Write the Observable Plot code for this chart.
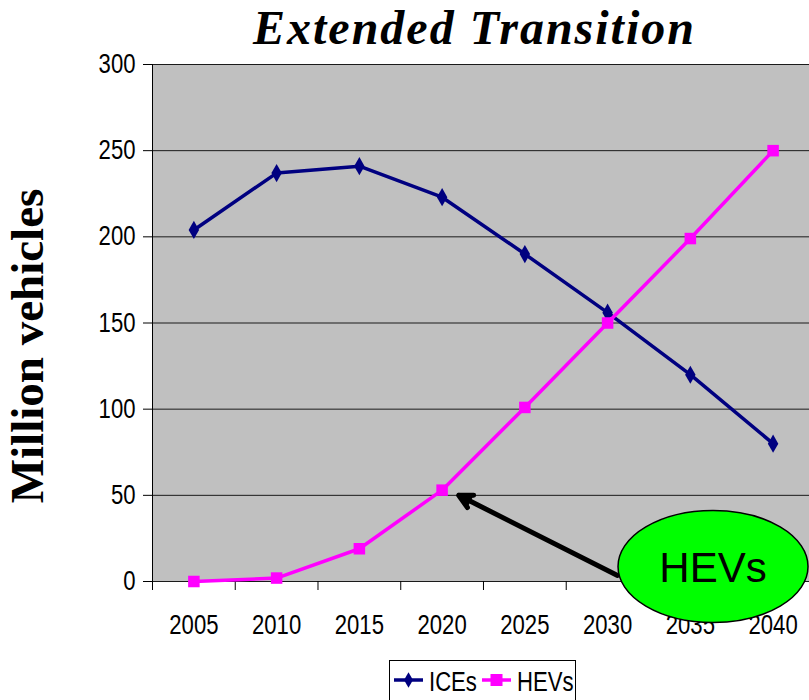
<!DOCTYPE html>
<html>
<head>
<meta charset="utf-8">
<script src="https://cdn.jsdelivr.net/npm/d3@7"></script>
<script src="https://cdn.jsdelivr.net/npm/@observablehq/plot@0.6"></script>
<style>
  body { margin: 0; background: #fff; }
  #wrap { position: relative; width: 809px; height: 700px; overflow: hidden; }
  #title { position: absolute; left: 140px; right: 0; top: 0px; text-align: center; line-height: 56px;
    font: italic bold 48px "Liberation Serif", "Times New Roman", serif; letter-spacing: 2px; color: #000; }
  #legend { position: absolute; left: 389px; top: 660px; }
</style>
</head>
<body>
<div id="wrap">
  <div id="chart"></div>
  <div id="title">Extended Transition</div>
  <div id="legend"></div>
</div>
<script>
const years = [2005, 2010, 2015, 2020, 2025, 2030, 2035, 2040];
const ices  = [204, 237, 241, 223, 190, 156, 120, 80];
const hevs  = [0, 2, 19, 53, 101, 150, 199, 250];
const yTicks = [0, 50, 100, 150, 200, 250, 300];
const xBoundaries = [2002.5, 2007.5, 2012.5, 2017.5, 2022.5, 2027.5, 2032.5, 2037.5];
const seriesNames = ["ICEs", "HEVs"];
const seriesColors = ["#000080", "#ff00ff"];
const calloutText = "HEVs";
const arrowData = [{x1: 2030.6, y1: 3.5, x2: 2021.0, y2: 50}];
const calloutCenter = {x: 2036.4, y: 8.4};

const rows = [];
years.forEach((yr, i) => {
  rows.push({year: yr, value: ices[i], series: seriesNames[0]});
  rows.push({year: yr, value: hevs[i], series: seriesNames[1]});
});
const iceRows = rows.filter(d => d.series === "ICEs");
const hevRows = rows.filter(d => d.series === "HEVs");

const sansFont = '"Liberation Sans", Arial, sans-serif';
const serifFont = '"Liberation Serif", "Times New Roman", serif';
const squeeze = " scale(0.82,1)";

const chart = Plot.plot({
  width: 809,
  height: 656,
  marginLeft: 152,
  marginRight: 0,
  marginTop: 64,
  marginBottom: 75,
  style: {fontFamily: sansFont, background: "transparent", overflow: "visible"},
  x: {type: "linear", domain: [2002.5, 2042.2]},
  y: {domain: [0, 300]},
  marks: [
    Plot.frame({fill: "#c0c0c0", stroke: null}),
    Plot.ruleY(yTicks, {stroke: "#1a1a1a", strokeWidth: 1}),
    Plot.ruleX([2002.5], {stroke: "#000", strokeWidth: 1}),
    Plot.axisY({ticks: yTicks, tickSize: 9, tickPadding: 8, fontSize: 27, label: null,
      tickFormat: d => String(d)}),
    Plot.axisX({ticks: xBoundaries, tickSize: 9, tickFormat: () => "", label: null}),
    Plot.axisX({ticks: years, tickSize: 0, tickPadding: 33, fontSize: 27, label: null,
      tickFormat: d => String(d)}),
    Plot.text(["Million vehicles"], {frameAnchor: "left", textAnchor: "middle", rotate: -90, dx: -125, dy: 23,
      fontSize: 47, fontWeight: "bold", fontFamily: serifFont, fill: "#000"}),
    Plot.line(iceRows, {x: "year", y: "value", stroke: seriesColors[0], strokeWidth: 3.5}),
    Plot.dot(iceRows, {x: "year", y: "value", symbol: "diamond", r: 5.5, fill: seriesColors[0], stroke: null}),
    Plot.line(hevRows, {x: "year", y: "value", stroke: seriesColors[1], strokeWidth: 3.5}),
    Plot.dot(hevRows, {x: "year", y: "value", symbol: "square", r: 6.5, fill: seriesColors[1], stroke: null}),
    Plot.arrow(arrowData, {x1: "x1", y1: "y1", x2: "x2", y2: "y2", stroke: "#000", fill: "#000",
      strokeWidth: 5, headLength: 4.5, headAngle: 55, strokeLinejoin: "miter"})
  ]
});
document.getElementById("chart").appendChild(chart);

// Condense tick labels horizontally (reference uses a narrow rendering)
d3.select(chart).selectAll('g[aria-label="x-axis tick label"] text, g[aria-label="y-axis tick label"] text')
  .each(function() { this.setAttribute("transform", (this.getAttribute("transform") || "") + squeeze); });

// Callout ellipse drawn on top of axis labels
const sx = chart.scale("x"), sy = chart.scale("y");
const svg = d3.select(chart);
const g = svg.append("g");
const cx = sx.apply(calloutCenter.x), cy = sy.apply(calloutCenter.y);
g.append("ellipse").attr("cx", cx).attr("cy", cy).attr("rx", 95).attr("ry", 56)
  .attr("fill", "#00ff00").attr("stroke", "#000").attr("stroke-width", 1.5);
g.append("text").attr("x", cx).attr("y", cy).attr("text-anchor", "middle").attr("dy", "0.36em")
  .attr("font-family", sansFont).attr("font-size", 42).attr("fill", "#000").text(calloutText);

// Legend
const leg = d3.select("#legend").append("svg").attr("width", 188).attr("height", 42);
leg.append("rect").attr("x", 0.5).attr("y", 0.5).attr("width", 186).attr("height", 40)
  .attr("fill", "#fff").attr("stroke", "#000").attr("stroke-width", 1);
const itemX = [5, 93];
seriesNames.forEach((name, i) => {
  const x0 = itemX[i];
  leg.append("line").attr("x1", x0).attr("x2", x0 + 29).attr("y1", 20).attr("y2", 20)
    .attr("stroke", seriesColors[i]).attr("stroke-width", 3.5);
  if (i === 0) {
    leg.append("path").attr("d", d3.symbol(d3.symbolDiamond, 70)()).attr("transform", `translate(${x0 + 14.5},20)`).attr("fill", seriesColors[i]);
  } else {
    leg.append("rect").attr("x", x0 + 8.5).attr("y", 14).attr("width", 12).attr("height", 12).attr("fill", seriesColors[i]);
  }
  leg.append("text").attr("transform", `translate(${x0 + 35},31) scale(0.79,1)`).attr("font-family", sansFont)
    .attr("font-size", 28).attr("fill", "#000").text(name);
});
</script>
</body>
</html>
